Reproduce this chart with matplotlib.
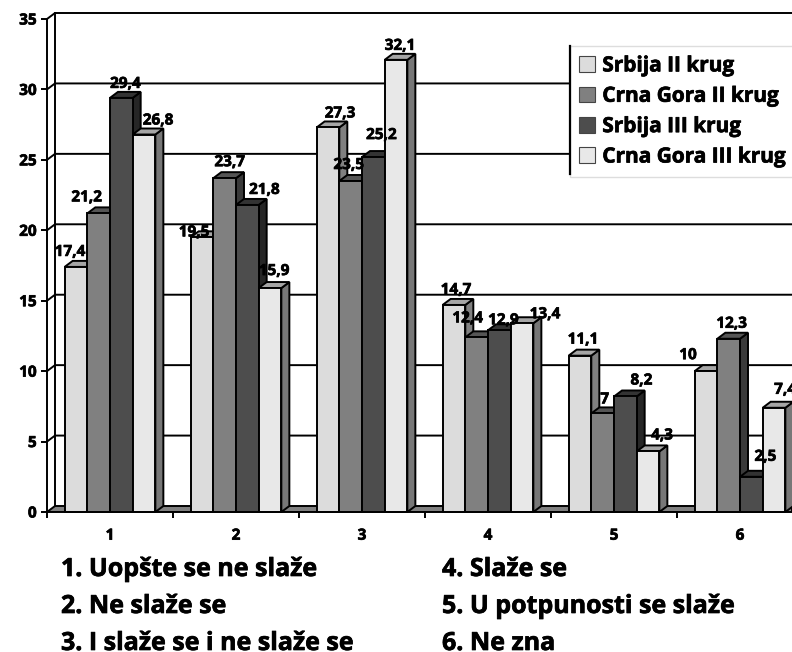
import matplotlib
matplotlib.use('Agg')
import matplotlib.pyplot as plt
import matplotlib.patheffects as pe
from matplotlib.lines import Line2D
from matplotlib.patches import Patch

plt.rcParams['font.family'] = ['Open Sans', 'DejaVu Sans']
plt.rcParams['font.weight'] = 'bold'

categories = [1, 2, 3, 4, 5, 6]
series_names = ['Srbija II krug', 'Crna Gora II krug', 'Srbija III krug', 'Crna Gora III krug']
srbija_2 = [17.4, 19.5, 27.3, 14.7, 11.1, 10]
crna_gora_2 = [21.2, 23.7, 23.5, 12.4, 7, 12.3]
srbija_3 = [29.4, 21.8, 25.2, 12.9, 8.2, 2.5]
crna_gora_3 = [26.8, 15.9, 32.1, 13.4, 4.3, 7.4]
series = [srbija_2, crna_gora_2, srbija_3, crna_gora_3]
y_ticks = [0, 5, 10, 15, 20, 25, 30, 35]
notes_left = ['1. Uopšte se ne slaže', '2. Ne slaže se', '3. I slaže se i ne slaže se']
notes_right = ['4. Slaže se', '5. U potpunosti se slaže', '6. Ne zna']

# colours: front, top, side of every series
front_colors = ['#dcdcdc', '#808080', '#4d4d4d', '#e8e8e8']
top_colors = ['#a6a6a6', '#555555', '#333333', '#a6a6a6']
side_colors = ['#808080', '#3a3a3a', '#262626', '#777777']

# label shift from the bar centre and bar top, in pixels (series by category)
label_shift = [
    [(-6, 15), (-8, 5), (12, 14), (2, 15), (3, 16), (-18, 16)],
    [(-12, 16), (5, 16), (-2, 16), (-9, 19), (2, 14), (3, 15)],
    [(4, 14), (17, 15), (8, 22), (4, 10), (16, 16), (14, 20)],
    [(14, 14), (4, 17), (4, 14), (23, 9), (14, 16), (11, 18)],
]

W, H = 792, 652
X0, Y0, YTOP = 47, 512, 19
CAT_W = 126
BAR_W = 0.18
DEPTH_X = 8 / CAT_W
DEPTH_Y = 6 / ((Y0 - YTOP) / 35)
LW = 1.4
# a thin outline brings the type nearer to the heavy face of the original
HEAVY = [pe.withStroke(linewidth=0.5, foreground='black')]


def draw_bar(ax, x, value, i, z):
    """front, side and top of one fake 3d bar"""
    left = x - BAR_W / 2
    right = x + BAR_W / 2
    ax.fill([right, right + DEPTH_X, right + DEPTH_X, right],
            [0, DEPTH_Y, value + DEPTH_Y, value],
            facecolor=side_colors[i], edgecolor='black', lw=LW, zorder=z, clip_on=False)
    ax.fill([left, left + DEPTH_X, right + DEPTH_X, right],
            [value, value + DEPTH_Y, value + DEPTH_Y, value],
            facecolor=top_colors[i], edgecolor='black', lw=LW, zorder=z, clip_on=False)
    ax.fill([left, right, right, left], [0, 0, value, value],
            facecolor=front_colors[i], edgecolor='black', lw=LW, zorder=z, clip_on=False)


def main():
    fig = plt.figure(figsize=(W / 100, H / 100), dpi=100)
    ax = fig.add_axes([X0 / W, 1 - Y0 / H, 1 - X0 / W, (Y0 - YTOP) / H])
    xmin = 0.5
    xmax = xmin + (W - X0) / CAT_W

    # back wall and gridlines
    for y in y_ticks[1:]:
        ax.plot([xmin, xmin + DEPTH_X, xmax], [y, y + DEPTH_Y, y + DEPTH_Y],
                color='black', lw=LW, zorder=1, clip_on=False)
    ax.plot([xmin + DEPTH_X, xmin + DEPTH_X], [DEPTH_Y, 35 + DEPTH_Y],
            color='black', lw=LW, zorder=1, clip_on=False)

    # floor
    ax.fill([xmin, xmin + DEPTH_X, xmax, xmax], [0, DEPTH_Y, DEPTH_Y, 0],
            facecolor='#808080', edgecolor='black', lw=LW, zorder=2)

    for c, cat in enumerate(categories):
        for i, values in enumerate(series):
            draw_bar(ax, cat + (i - 1.5) * BAR_W, values[c], i, 3 + c + i * 0.1)

    for c, cat in enumerate(categories):
        for i, values in enumerate(series):
            x = cat + (i - 1.5) * BAR_W
            text = f'{values[c]}'.replace('.', ',')
            ax.annotate(text, (x, values[c]), xytext=label_shift[i][c],
                        textcoords='offset pixels', ha='center', va='center',
                        fontsize=11, fontweight='bold', zorder=20, annotation_clip=False,
                        path_effects=HEAVY)

    for side in ['top', 'right']:
        ax.spines[side].set_visible(False)
    ax.spines['left'].set_linewidth(LW)
    ax.spines['bottom'].set_linewidth(LW)
    ax.spines['left'].set_zorder(10)
    ax.spines['bottom'].set_zorder(10)
    ax.set_yticks(y_ticks)
    ax.tick_params(axis='y', length=4.5, width=LW, labelsize=11, pad=3)
    ax.set_xticks([xmin + k for k in range(6)])
    ax.set_xticklabels([])
    ax.tick_params(axis='x', which='major', length=4.5, width=LW)
    ax.set_xticks(categories, minor=True)
    ax.set_xticklabels(categories, minor=True, fontsize=11, fontweight='bold')
    ax.tick_params(axis='x', which='minor', length=0, pad=12)
    # set_xticks widens the view, so the limits come after it
    ax.set_xlim(xmin, xmax)
    ax.set_ylim(0, 35)
    for label in ax.get_yticklabels() + ax.get_xticklabels(minor=True):
        label.set_path_effects(HEAVY)

    handles = [Patch(facecolor=front_colors[i], edgecolor='#444444', lw=0.8) for i in range(4)]
    leg = fig.legend(handles, series_names, loc='upper left',
                     bbox_to_anchor=(570 / W, 1 - 46 / H), bbox_transform=fig.transFigure,
                     fontsize=15, frameon=True, fancybox=False, framealpha=1,
                     edgecolor='#dddddd', borderaxespad=0, borderpad=0.45,
                     handlelength=0.75, handleheight=0.8, handletextpad=0.35,
                     labelspacing=0.45)
    leg.set_zorder(30)
    for label in leg.get_texts():
        label.set_path_effects(HEAVY)
    fig.add_artist(Line2D([570 / W, 570 / W], [1 - 46 / H, 1 - 174 / H], color='black', lw=1.6, zorder=31))

    # rows of the key below the chart
    for k, text in enumerate(notes_left):
        fig.text(61 / W, 1 - (576 + 37 * k) / H, text, fontsize=18, fontweight='bold',
                 va='baseline', path_effects=HEAVY)
    for k, text in enumerate(notes_right):
        fig.text(442 / W, 1 - (576 + 37 * k) / H, text, fontsize=18, fontweight='bold',
                 va='baseline', path_effects=HEAVY)

    fig.savefig('out.png', dpi=100)


if __name__ == '__main__':
    main()
